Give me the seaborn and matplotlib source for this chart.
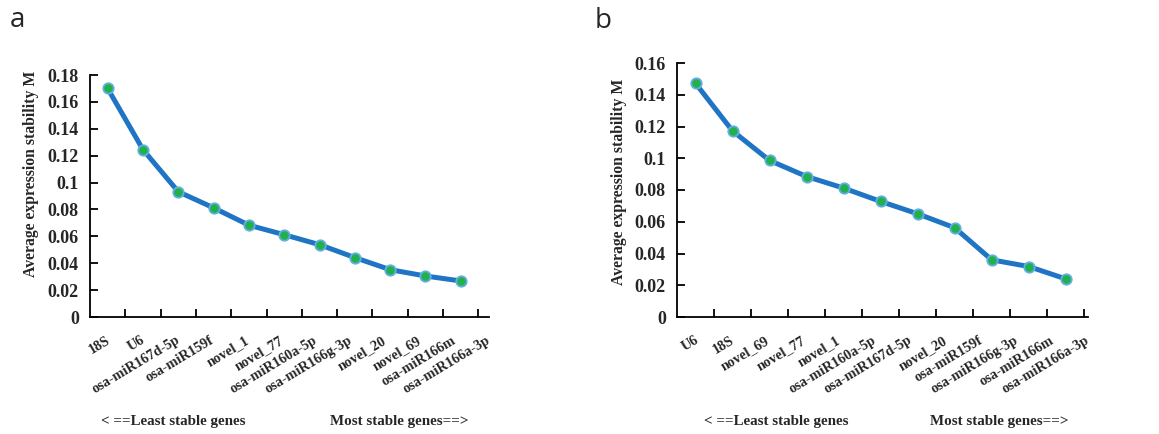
import numpy as np
import pandas as pd
import matplotlib
matplotlib.use("Agg")
import matplotlib.pyplot as plt
import seaborn as sns

sns.set_theme(style="white")
plt.rcParams['font.family'] = ['Liberation Serif', 'DejaVu Serif']

# ---- data ----
genes_a = ["18S", "U6", "osa-miR167d-5p", "osa-miR159f", "novel_1", "novel_77",
           "osa-miR160a-5p", "osa-miR166g-3p", "novel_20", "novel_69",
           "osa-miR166m", "osa-miR166a-3p"]
m_a = [0.170, 0.1245, 0.0932, 0.0812, 0.0683, 0.0612, 0.0538, 0.0442, 0.0352, 0.0305, 0.0268]

genes_b = ["U6", "18S", "novel_69", "novel_77", "novel_1", "osa-miR160a-5p",
           "osa-miR167d-5p", "novel_20", "osa-miR159f", "osa-miR166g-3p",
           "osa-miR166m", "osa-miR166a-3p"]
m_b = [0.1472, 0.1172, 0.0986, 0.0885, 0.0812, 0.0728, 0.0650, 0.0562, 0.0360, 0.0318, 0.0240]

yticks_a = [0, 0.02, 0.04, 0.06, 0.08, 0.1, 0.12, 0.14, 0.16, 0.18]
yticks_b = [0, 0.02, 0.04, 0.06, 0.08, 0.1, 0.12, 0.14, 0.16]

LINE = "#1f74c4"
FACE = "#22b04a"
EDGE = "#62aee6"

fig = plt.figure(figsize=(11.59, 4.34), dpi=100)
ax_a = fig.add_axes([90/1159, 117/434, 399/1159, 242/434])
ax_b = fig.add_axes([677/1159, 117/434, 411/1159, 254/434])


def fmt(v):
    if v == 0:
        return "0"
    s = f"{v:.2f}"
    if s.endswith("0"):
        s = s[:-1]
    return s


def draw(ax, genes, vals, yticks, label_pos, ylab_xy):
    n = len(vals)
    df = pd.DataFrame({"step": np.arange(n), "M": vals})
    sns.lineplot(data=df, x="step", y="M", ax=ax, color=LINE, linewidth=3.6,
                 marker="o", markersize=7.5, markerfacecolor=FACE,
                 markeredgecolor=EDGE, markeredgewidth=1.3)
    ax.set_xlim(-0.5, n - 0.5)
    ax.set_ylim(0, yticks[-1])
    ax.set_yticks(yticks)
    ax.set_yticklabels([fmt(v) for v in yticks], fontsize=13, fontweight="bold")
    ax.tick_params(axis="y", left=True, direction="in", length=6, width=1.3,
                   color="black", pad=8)
    # category boundaries as minor ticks
    ax.set_xticks(np.arange(n) + 0.5, minor=True)
    ax.tick_params(axis="x", which="minor", bottom=True, direction="in", length=6,
                   width=1.3, color="black")
    ax.set_xticks(label_pos)
    ax.set_xticklabels(genes, rotation=31, ha="right", va="center",
                       rotation_mode="anchor", fontsize=10.3, fontweight="bold")
    ax.tick_params(axis="x", which="major", bottom=True, length=0, pad=16)
    for s in ["top", "right"]:
        ax.spines[s].set_visible(False)
    for s in ["left", "bottom"]:
        ax.spines[s].set_color("black")
        ax.spines[s].set_linewidth(1.3)
    ax.set_xlabel("")
    ax.set_ylabel("Average expression stability M", fontsize=11.3, fontweight="bold")
    ax.yaxis.set_label_coords(*ylab_xy)
    ax.grid(False)


draw(ax_a, genes_a, m_a, yticks_a, np.linspace(0.05, 10.8, 12),
     ((39 - 90) / 399, (317 - 174) / 242))
draw(ax_b, genes_b, m_b, yticks_b, np.linspace(0.05, 10.6, 12),
     ((627 - 677) / 411, (317 - 182) / 254))

for x1, x2 in [(173, 399), (776, 999)]:
    fig.text(x1/1159, 1 - 421/434, "< ==Least stable genes", ha="center", va="center",
             fontsize=10.8, fontweight="bold")
    fig.text(x2/1159, 1 - 421/434, "Most stable genes==>", ha="center", va="center",
             fontsize=10.8, fontweight="bold")

fig.text(10/1159, 1 - 20/434, "a", fontsize=20, family=["Open Sans", "DejaVu Sans"],
         ha="left", va="center")
fig.text(595/1159, 1 - 21/434, "b", fontsize=20, family=["Open Sans", "DejaVu Sans"],
         ha="left", va="center")

fig.savefig("out.png", dpi=100, facecolor="white")
